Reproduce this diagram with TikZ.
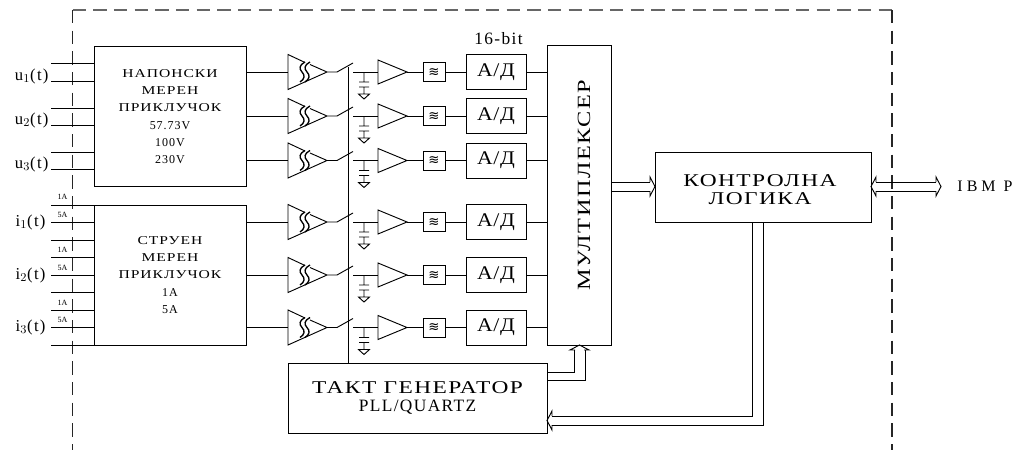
\documentclass[tikz,border=0pt]{standalone}
\usepackage{fontspec}
\setmainfont{Liberation Serif}
\newfontfamily\widefont[FakeStretch=1.3,LetterSpace=8]{Liberation Serif}
\newfontfamily\spacedfont[LetterSpace=8]{Liberation Serif}
\newfontfamily\adfont[FakeStretch=1.12,LetterSpace=4]{Liberation Serif}
\newfontfamily\symfont{DejaVu Sans}
\usetikzlibrary{positioning,calc}
\tikzset{
  bloc/.style={draw, inner sep=0pt, align=center},
  meas/.style={bloc, minimum width=114pt, minimum height=105pt, font=\fontsize{9}{13}\selectfont},
  adbox/.style={bloc, minimum width=45pt, minimum height=26.25pt, font=\adfont\fontsize{14.5}{16}\selectfont},
  fltbox/.style={bloc, minimum width=16.5pt, minimum height=14.25pt, font=\symfont\fontsize{10}{10}\selectfont},
  inlabel/.style={anchor=east, inner sep=0pt, font=\spacedfont\fontsize{12.5}{14}\selectfont},
  rangelabel/.style={inner sep=0pt, font=\fontsize{6}{7}\selectfont},
  openhead/.pic={\draw (-5,-4.5) -- (-5,-9.5) -- (0,0) -- (-5,9.5) -- (-5,4.5);},
  dashline/.style={dash pattern=on 10pt off 5.5pt, line width=0.8pt}
}
\begin{document}
\begin{tikzpicture}[x=0.75pt, y=-0.75pt, line width=0.7pt]
\useasboundingbox (0,0) rectangle (1013,450);
\coordinate (cornerl) at (72.5,10); \coordinate (cornerr) at (892,10);
\draw[dashline, black!60] (cornerl) -- (cornerr);
\draw[dashline, black!85] (cornerl) -- (72.5,450);
\draw[dashline, black!85] (cornerr) -- (892,450);
\node[meas] (voltage) at (170,116.5) {\widefont НАПОНСКИ\\\widefont МЕРЕН\\\widefont ПРИКЛУЧОК\\\spacedfont 57.73V\\\spacedfont 100V\\\spacedfont 230V};
\node[meas] (current) at (170,275) {\widefont СТРУЕН\\\widefont МЕРЕН\\\widefont ПРИКЛУЧОК\\\spacedfont 1A\\\spacedfont 5A};
\node[bloc, minimum width=48pt, minimum height=225pt] (mux) at (579.5,195) {};
\node[rotate=90, font=\widefont\fontsize{14}{16}\selectfont] (muxtext) at (584,185) {МУЛТИПЛЕКСЕР};
\node[bloc, minimum width=162pt, minimum height=52.5pt] (logic) at (763,187) {};
\node[align=center, font=\widefont\fontsize{13.5}{13.5}\selectfont] (logictext) at (760,190) {КОНТРОЛНА\\ЛОГИКА\hspace{9pt}};
\node[bloc, minimum width=194.25pt, minimum height=52.5pt] (clock) at (417.5,398) {{\widefont\fontsize{13.5}{16}\selectfont ТАКТ ГЕНЕРАТОР}\\[1.5pt]{\spacedfont\fontsize{13}{16}\selectfont PLL/QUARTZ}};
\node[font=\spacedfont\fontsize{13}{14}\selectfont] (bits) at (498.5,39) {16-bit};
\node[anchor=west, inner sep=0pt, font=\spacedfont\fontsize{12}{12}\selectfont\addfontfeature{LetterSpace=25}] (pc) at (957,186) {IBM P};
\foreach \n/\y in {1/63,2/81,3/108,4/125,5/152,6/169} {\coordinate (uin\n) at (51,\y); \draw (uin\n) -- (uin\n -| voltage.west);}
\foreach \n/\y in {1/205,2/222,3/240,4/257,5/275,6/292,7/310,8/327,9/345} {\coordinate (iin\n) at (51,\y); \draw (iin\n) -- (iin\n -| current.west);}
\foreach \n/\y in {1/76.5,2/120,3/164} \node[inlabel] (ulabel\n) at (49,\y) {u$_\n$(t)};
\foreach \n/\y in {1/222,2/275,3/327} \node[inlabel] (ilabel\n) at (46,\y) {i$_\n$(t)};
\foreach \n/\a/\b in {1/197/215,2/250/268,3/303/320} {\node[rangelabel] (onea\n) at (62.5,\a) {1A}; \node[rangelabel] (fivea\n) at (62.5,\b) {5A};}
\coordinate (bustop) at (348,67);
\draw (bustop) -- (bustop |- clock.north);
\foreach \i/\y/\src in {1/72/voltage,2/116/voltage,3/160.5/voltage,4/222/current,5/275/current,6/327.5/current} {
  \coordinate (pre\i) at (288,\y); \coordinate (pretip\i) at (327,\y); \coordinate (swa\i) at (337,\y); \coordinate (swb\i) at (353,\y-9); \coordinate (swc\i) at (353,\y);
  \coordinate (amp\i) at (378,\y); \coordinate (amptip\i) at (407,\y); \coordinate (cap\i) at (364,\y);
  \node[fltbox] (flt\i) at (434,\y) {≋};
  \node[adbox] (ad\i) at (496,\y) {А/Д};
  \draw (pre\i -| \src.east) -- (pre\i);
  \draw (pretip\i) -- ++(-39,17.5) -- ++(0,-35) -- ++(17,8) ++(5,2) -- (pretip\i);
  \begin{scope}[shift={(pre\i)}, line width=1pt]
    \draw (17,-10) .. controls (11,-7) and (11,-3) .. (14,0) .. controls (17,3) and (17,7) .. (12,10);
    \draw (22,-10) .. controls (16,-7) and (16,-3) .. (19,0) .. controls (22,3) and (22,7) .. (17,10);
  \end{scope}
  \draw (pretip\i) -- (swa\i) -- (swb\i);
  \draw (swc\i) -- (amp\i);
  \draw (amptip\i) -- ++(-29,-12) -- ++(0,24) -- cycle;
  \draw (amptip\i) -- (flt\i);
  \draw (flt\i) -- (ad\i);
  \draw (ad\i) -- (ad\i -| mux.west);
  \draw (cap\i) -- ++(0,10) ++(-5,0) -- ++(10,0) ++(-10,5) -- ++(10,0) ++(-5,0) -- ++(0,7) ++(-5.5,0) -- ++(11,0) -- ++(-5.5,5) -- cycle;
}
\coordinate (muxin1) at (612,182); \coordinate (muxin2) at (612,191);
\draw (muxin1) -- ++(38,0);
\draw (muxin2) -- ++(38,0);
\pic at (655,186.5) {openhead};
\coordinate (pcend1) at (936,182); \coordinate (pcend2) at (936,191);
\draw (876,182) -- (pcend1);
\draw (876,191) -- (pcend2);
\pic at (941,186.5) {openhead};
\pic[rotate=180] at (871,186.5) {openhead};
\coordinate (clkout1) at (547,372); \coordinate (clkout2) at (547,380);
\draw (clkout1) -- (574,372) -- (574,350);
\draw (clkout2) -- (585,380) -- (585,350);
\pic[rotate=90] at (579.5,345) {openhead};
\coordinate (logout1) at (752,222); \coordinate (logout2) at (763,222);
\draw (logout1) -- (752,416) -- (552,416);
\draw (logout2) -- (763,425) -- (552,425);
\pic[rotate=180] at (547,420.5) {openhead};
\end{tikzpicture}
\end{document}
